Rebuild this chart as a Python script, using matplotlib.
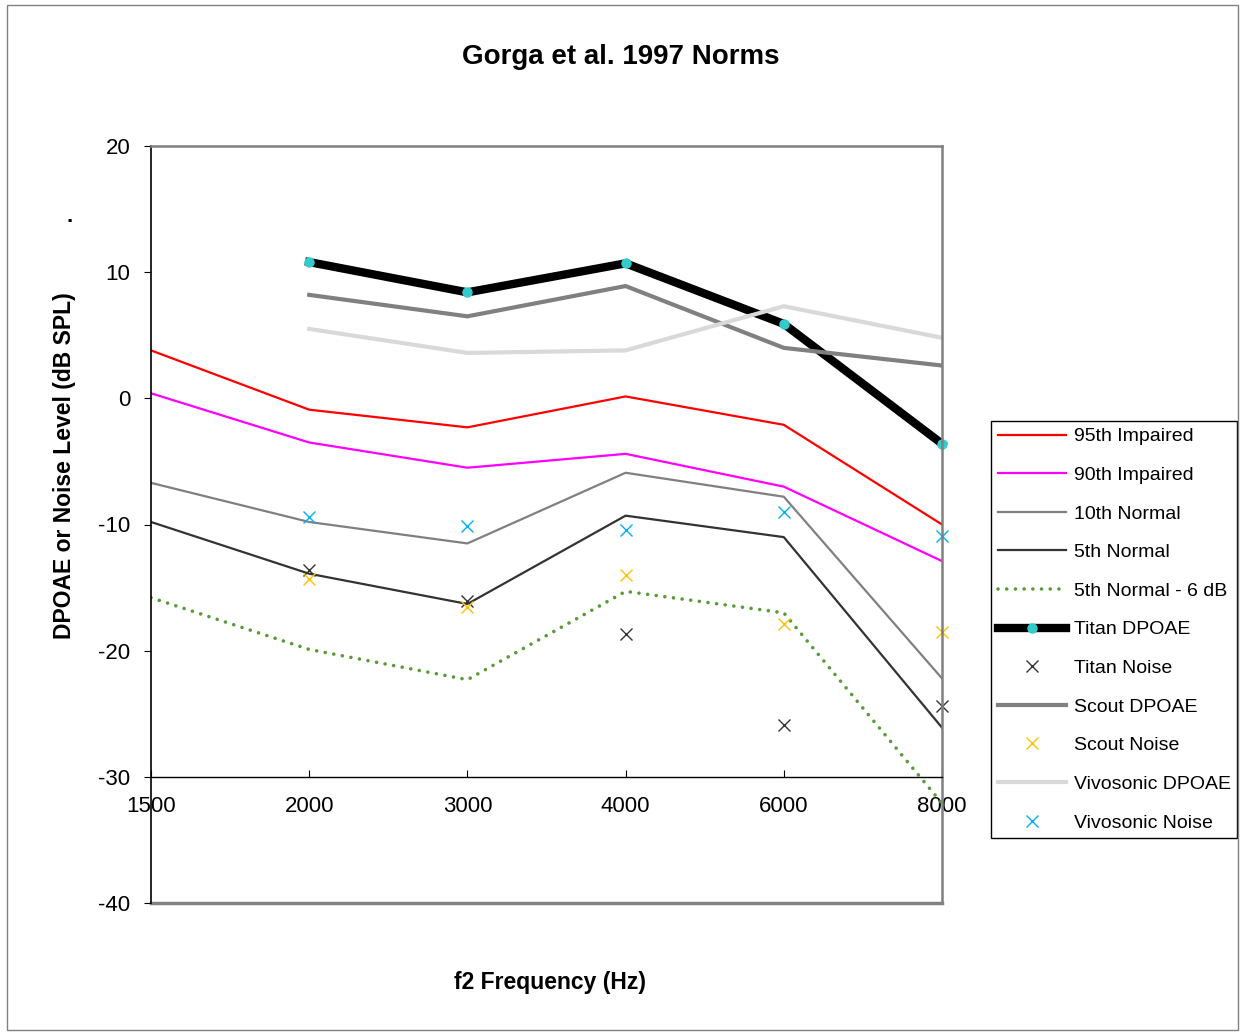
import matplotlib.pyplot as plt
from matplotlib.patches import Rectangle

plt.rcParams['font.family'] = ['Liberation Sans', 'DejaVu Sans']

# categorias del eje x (espaciado uniforme, como en Excel)
frecuencias = ['1500', '2000', '3000', '4000', '6000', '8000']
x_todas = [0, 1, 2, 3, 4, 5]
x_equipos = [1, 2, 3, 4, 5]

# normas Gorga et al. 1997
p95_impaired = [3.8, -0.9, -2.3, 0.15, -2.1, -10.0]
p90_impaired = [0.4, -3.5, -5.5, -4.4, -7.0, -12.9]
p10_normal = [-6.7, -9.8, -11.5, -5.9, -7.8, -22.2]
p5_normal = [-9.8, -13.9, -16.3, -9.3, -11.0, -26.1]
p5_normal_6db = [-15.8, -19.9, -22.3, -15.3, -17.0, -32.1]

# mediciones de equipos (2000-8000)
titan_dpoae = [10.8, 8.4, 10.7, 5.9, -3.6]
titan_noise = [-13.6, -16.1, -18.7, -25.9, -24.4]
scout_dpoae = [8.2, 6.5, 8.9, 4.0, 2.6]
scout_noise = [-14.3, -16.5, -14.0, -17.9, -18.5]
vivo_dpoae = [5.5, 3.6, 3.8, 7.3, 4.8]
vivo_noise = [-9.4, -10.1, -10.4, -9.0, -10.9]

fig = plt.figure(figsize=(12.47, 10.33), dpi=100)
ax = fig.add_axes([151 / 1247, 1 - 903 / 1033, 791 / 1247, 757 / 1033])

ax.plot(x_todas, p95_impaired, color='#FF0000', lw=1.6, label='95th Impaired')
ax.plot(x_todas, p90_impaired, color='#FF00FF', lw=1.6, label='90th Impaired')
ax.plot(x_todas, p10_normal, color='#808080', lw=1.6, label='10th Normal')
ax.plot(x_todas, p5_normal, color='#333333', lw=1.6, label='5th Normal')
ax.plot(x_todas, p5_normal_6db, color='#5A9A38', lw=2.6, ls=(0, (0.01, 2.4)),
        dash_capstyle='round', label='5th Normal - 6 dB')
ax.plot(x_equipos, titan_dpoae, color='black', lw=6, marker='o', ms=6.5,
        mfc='#33CCCC', mec='#33CCCC', label='Titan DPOAE', clip_on=False)
ax.plot(x_equipos, titan_noise, ls='none', marker='x', ms=9, mew=1,
        color='#333333', label='Titan Noise', clip_on=False)
ax.plot(x_equipos, scout_dpoae, color='#808080', lw=3, label='Scout DPOAE')
ax.plot(x_equipos, scout_noise, ls='none', marker='x', ms=9, mew=1,
        color='#FFC000', label='Scout Noise', clip_on=False)
ax.plot(x_equipos, vivo_dpoae, color='#D9D9D9', lw=3, label='Vivosonic DPOAE')
ax.plot(x_equipos, vivo_noise, ls='none', marker='x', ms=9, mew=1,
        color='#00B0F0', label='Vivosonic Noise', clip_on=False)

ax.set_xlim(0, 5)
ax.set_ylim(-40, 20)
ax.set_yticks([-40, -30, -20, -10, 0, 10, 20])
ax.set_yticklabels(['-40', '-30', '-20', '-10', '0', '10', '20'])
ax.set_xticks(x_todas)
ax.set_xticklabels(frecuencias)

# eje x cruzando en -30
ax.spines['bottom'].set_position(('data', -30))
ax.spines['bottom'].set_color('black')
ax.spines['bottom'].set_linewidth(1)
ax.spines['left'].set_color('black')
ax.spines['left'].set_linewidth(1.2)
ax.spines['top'].set_color('#808080')
ax.spines['top'].set_linewidth(1.8)
ax.spines['right'].set_color('#808080')
ax.spines['right'].set_linewidth(1.8)
ax.axhline(-40, color='#808080', lw=2.5, clip_on=False, zorder=0.5)

ax.tick_params(axis='x', direction='in', length=5, pad=14, labelsize=16)
ax.tick_params(axis='y', direction='out', length=5, pad=10, labelsize=16)

fig.text(621 / 1247, 1 - 57 / 1033, 'Gorga et al. 1997 Norms', ha='center', va='center',
         fontsize=20, fontweight='bold')
fig.text(550 / 1247, 1 - 982 / 1033, 'f2 Frequency (Hz)', ha='center', va='center',
         fontsize=16.5, fontweight='bold')
fig.text(65 / 1247, 1 - 466 / 1033, 'DPOAE or Noise Level (dB SPL)', ha='center', va='center',
         rotation=90, fontsize=16.5, fontweight='bold')
fig.text(70 / 1247, 1 - 216 / 1033, '.', ha='center', va='center', fontsize=16, fontweight='bold')

leg = ax.legend(loc='upper left', bbox_to_anchor=(991 / 1247, 1 - 421 / 1033),
                bbox_transform=fig.transFigure, borderaxespad=0, fancybox=False,
                edgecolor='black', framealpha=1, fontsize=14, labelspacing=1.08,
                handlelength=3.5, handletextpad=0.4, borderpad=0.35)
leg.get_frame().set_linewidth(1)

fig.patches.append(Rectangle((7 / 1247, 1 - 1030 / 1033), 1231 / 1247, 1025 / 1033,
                             transform=fig.transFigure, fill=False, edgecolor='#808080', lw=1))

fig.savefig('out.png', dpi=100)
